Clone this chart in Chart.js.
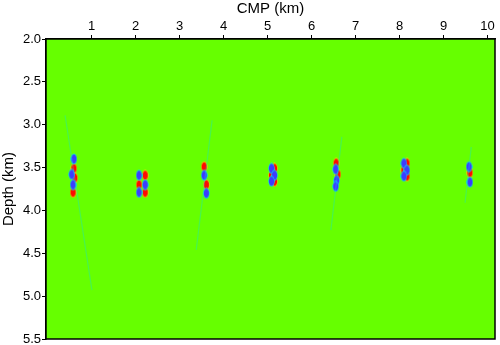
<!DOCTYPE html>
<html>
<head>
<meta charset="utf-8">
<script src="https://cdn.jsdelivr.net/npm/chart.js@4.4.1/dist/chart.umd.min.js"></script>
<style>
  html, body { margin: 0; padding: 0; background: #fff; }
  canvas { display: block; }
</style>
</head>
<body>
<canvas id="chart" width="500" height="345"></canvas>
<script>
// axis ticks
const cmpTicks = [1, 2, 3, 4, 5, 6, 7, 8, 9, 10];
const depthTicks = [2.0, 2.5, 3.0, 3.5, 4.0, 4.5, 5.0, 5.5];

// positive (red) wavelet lobes
const redCmp   = [0.60, 0.62, 0.58, 2.22, 2.08, 2.22, 3.56, 3.61, 5.16, 5.09, 5.16, 6.56, 6.60, 8.17, 8.10, 8.17, 9.60];
const redDepth = [3.51, 3.62, 3.79, 3.59, 3.70, 3.79, 3.49, 3.70, 3.51, 3.59, 3.66, 3.45, 3.58, 3.45, 3.53, 3.60, 3.56];

// negative (blue) wavelet lobes
const blueCmp   = [0.60, 0.55, 0.58, 2.08, 2.22, 2.08, 3.56, 3.61, 5.09, 5.16, 5.09, 6.55, 6.57, 6.55, 8.10, 8.17, 8.10, 9.58, 9.60];
const blueDepth = [3.40, 3.58, 3.70, 3.59, 3.70, 3.79, 3.59, 3.80, 3.51, 3.59, 3.66, 3.52, 3.65, 3.72, 3.45, 3.53, 3.60, 3.49, 3.67];

// faint migration tails (start / end)
const tailCmp   = [[0.40, 1.01], [3.74, 3.38], [6.69, 6.44], [9.63, 9.49]];
const tailDepth = [[2.89, 4.93], [2.95, 4.46], [3.14, 4.23], [3.26, 3.91]];

function makeBlob(core, edge, fade) {
  const c = document.createElement('canvas');
  c.width = 7; c.height = 12;
  const g = c.getContext('2d');
  g.save();
  g.translate(3.5, 6);
  g.scale(3.5, 6);
  const grad = g.createRadialGradient(0, 0, 0, 0, 0, 1);
  grad.addColorStop(0, core);
  grad.addColorStop(0.62, core);
  grad.addColorStop(0.85, edge);
  grad.addColorStop(1, fade);
  g.fillStyle = grad;
  g.beginPath();
  g.arc(0, 0, 1, 0, Math.PI * 2);
  g.fill();
  g.restore();
  return c;
}

const redBlob = makeBlob('#ff0a00', 'rgba(255,180,0,0.8)', 'rgba(255,255,0,0)');
const blueBlob = makeBlob('#3c3cff', 'rgba(0,200,255,0.8)', 'rgba(0,255,255,0)');

const toPoints = (xs, ys) => xs.map((x, i) => ({ x: x, y: ys[i] }));

const datasets = [];
tailCmp.forEach((xs, i) => {
  datasets.push({
    type: 'line',
    data: toPoints(xs, tailDepth[i]),
    borderColor: 'rgba(0,220,255,0.3)',
    borderWidth: 1.2,
    pointRadius: 0,
    fill: false
  });
});
datasets.push({
  data: toPoints(blueCmp, blueDepth),
  pointStyle: blueBlob,
  pointRadius: 4
});
datasets.push({
  data: toPoints(redCmp, redDepth),
  pointStyle: redBlob,
  pointRadius: 4
});

const plotBackground = {
  id: 'plotBackground',
  beforeDatasetsDraw(chart) {
    const a = chart.chartArea, ctx = chart.ctx;
    ctx.save();
    ctx.fillStyle = '#66ff00';
    ctx.fillRect(a.left, a.top, a.right - a.left, a.bottom - a.top);
    ctx.restore();
  },
  afterDraw(chart) {
    const a = chart.chartArea, ctx = chart.ctx;
    ctx.save();
    ctx.strokeStyle = '#000';
    ctx.lineWidth = 1.5;
    ctx.strokeRect(a.left, a.top, a.right - a.left, a.bottom - a.top);
    ctx.restore();
  }
};

const font = "'Liberation Sans', Arial, Helvetica, sans-serif";

new Chart(document.getElementById('chart'), {
  type: 'scatter',
  data: { datasets: datasets },
  plugins: [plotBackground],
  options: {
    responsive: false,
    animation: false,
    layout: { padding: { left: 0, top: 0, right: 3, bottom: 6 } },
    plugins: { legend: { display: false }, tooltip: { enabled: false } },
    scales: {
      x: {
        type: 'linear',
        position: 'top',
        min: -0.034,
        max: 10.17,
        afterBuildTicks: s => { s.ticks = cmpTicks.map(v => ({ value: v })); },
        afterFit: s => { s.height = 39; s.paddingLeft = 0; s.paddingRight = 0; },
        ticks: { color: '#000', font: { family: font, size: 13 }, padding: 1, maxRotation: 0 },
        grid: { drawOnChartArea: false, drawTicks: true, tickLength: 4, color: '#000' },
        border: { display: true, color: '#000', width: 1.5 },
        title: { display: true, text: 'CMP (km)', color: '#000', font: { family: font, size: 15 }, padding: { top: 0, bottom: 0 } }
      },
      y: {
        type: 'linear',
        reverse: true,
        min: 2.0,
        max: 5.5,
        afterBuildTicks: s => { s.ticks = depthTicks.map(v => ({ value: v })); },
        afterFit: s => { s.width = 46; s.paddingTop = 0; s.paddingBottom = 0; },
        ticks: { color: '#000', font: { family: font, size: 13 }, padding: 1, callback: v => Number(v).toFixed(1) },
        grid: { drawOnChartArea: false, drawTicks: true, tickLength: 4, color: '#000' },
        border: { display: true, color: '#000', width: 1.5 },
        title: { display: true, text: 'Depth (km)', color: '#000', font: { family: font, size: 15 }, padding: { top: 0, bottom: 0 } }
      }
    }
  }
});
</script>
</body>
</html>
